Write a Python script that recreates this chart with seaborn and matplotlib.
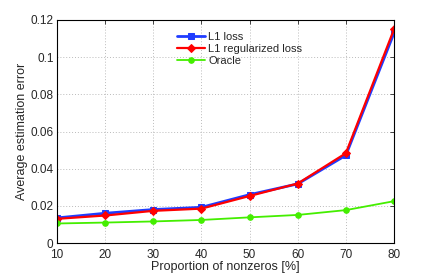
import matplotlib
matplotlib.use("Agg")
import matplotlib.pyplot as plt
import seaborn as sns
import pandas as pd

x = [10, 20, 30, 40, 50, 60, 70, 80]
l1_loss = [0.0135, 0.0160, 0.0180, 0.0192, 0.0260, 0.0318, 0.0472, 0.1130]
l1_reg = [0.0130, 0.0148, 0.0173, 0.0185, 0.0253, 0.0320, 0.0483, 0.1150]
oracle = [0.0105, 0.0110, 0.0116, 0.0124, 0.0138, 0.0151, 0.0177, 0.0225]
series_names = ["L1 loss", "L1 regularized loss", "Oracle"]
yticks = [0, 0.02, 0.04, 0.06, 0.08, 0.1, 0.12]
ytick_labels = ["0", "0.02", "0.04", "0.06", "0.08", "0.1", "0.12"]

sns.set_style("white")
plt.rcParams['font.family'] = ['Liberation Sans', 'DejaVu Sans']

df = pd.DataFrame({
    "x": x * 3,
    "y": l1_loss + l1_reg + oracle,
    "series": [series_names[0]] * 8 + [series_names[1]] * 8 + [series_names[2]] * 8,
})

fig = plt.figure(figsize=(4.36, 2.73), dpi=100)
ax = fig.add_axes([57/436, 1 - 243/273, (394-57)/436, (243-20)/273])

palette = {series_names[0]: "#1f3cff", series_names[1]: "#ff0000", series_names[2]: "#44ee00"}
markers = {series_names[0]: "s", series_names[1]: "D", series_names[2]: "o"}
sizes = {series_names[0]: 4.5, series_names[1]: 4.5, series_names[2]: 4}
lws = {series_names[0]: 2.0, series_names[1]: 1.6, series_names[2]: 1.3}
for name in series_names:
    sub = df[df.series == name]
    sns.lineplot(data=sub, x="x", y="y", ax=ax, color=palette[name], marker=markers[name],
                 markersize=sizes[name], linewidth=lws[name], markeredgecolor=palette[name],
                 label=name)

ax.set_xlim(10, 80)
ax.set_ylim(0, 0.12)
ax.set_xticks(x)
ax.set_yticks(yticks)
ax.set_yticklabels(ytick_labels)
ax.tick_params(direction="in", labelsize=8.5, length=3, width=0.6, top=True, right=True, pad=2.5)
ax.tick_params(axis="x", pad=4)
ax.grid(True, linestyle=(0, (1, 2)), color="#bbbbbb", linewidth=0.7)
for s in ax.spines.values():
    s.set_visible(True)
    s.set_color("black")
    s.set_linewidth(0.8)
ax.set_xlabel("Proportion of nonzeros [%]", fontsize=9, labelpad=0)
ax.set_ylabel("Average estimation error", fontsize=9, labelpad=2)
leg = ax.legend(loc="upper left", bbox_to_anchor=(0.33, 0.985), frameon=False, fontsize=8,
                handlelength=2.5, labelspacing=0.15, borderpad=0.3, handletextpad=0.3)
fig.savefig("out.png", dpi=100)
